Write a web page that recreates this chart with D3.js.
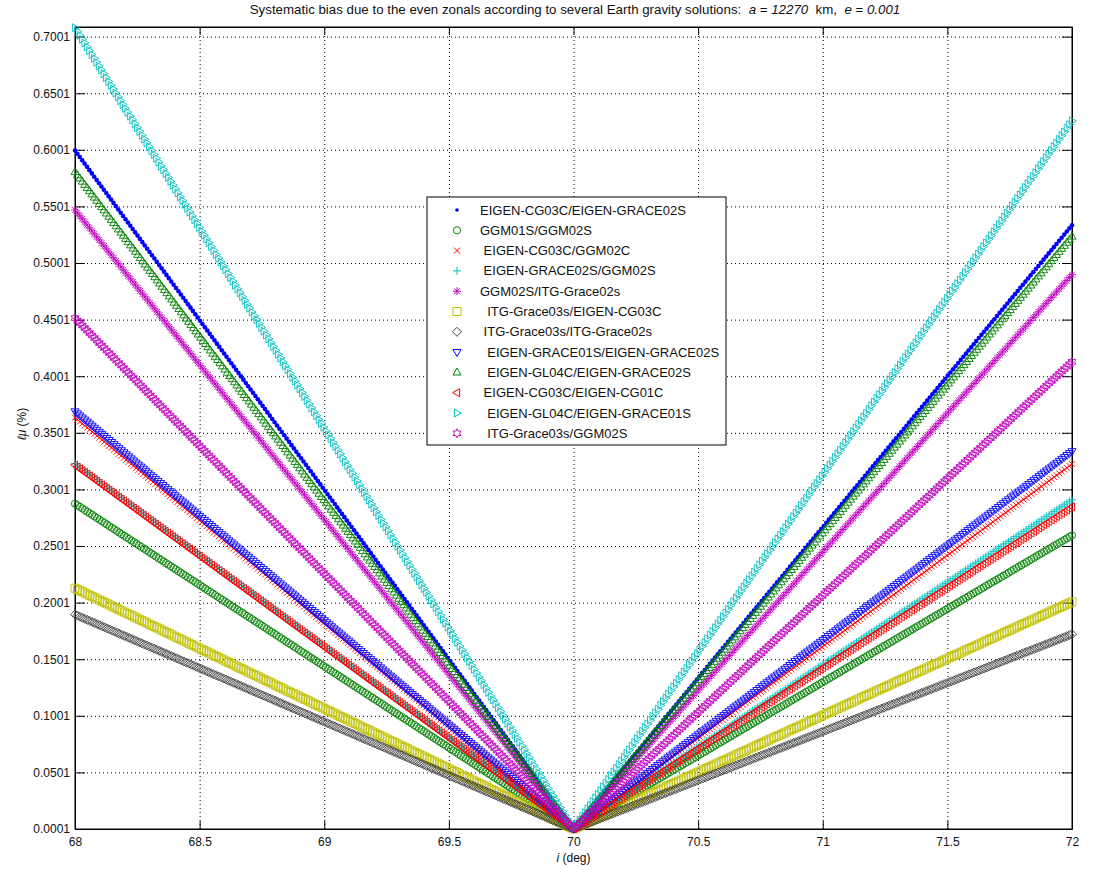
<!DOCTYPE html>
<html>
<head>
<meta charset="utf-8">
<script src="https://cdn.jsdelivr.net/npm/d3@7"></script>
<style>
  body { margin: 0; background: #fff; }
  text { font-family: "Liberation Sans", Arial, sans-serif; fill: #111; }
</style>
</head>
<body>
<svg id="chart" width="1102" height="873"></svg>
<script>
// legend labels (leading spaces are in the original legend strings)
const seriesNames = [
  "EIGEN-CG03C/EIGEN-GRACE02S",
  "GGM01S/GGM02S",
  " EIGEN-CG03C/GGM02C",
  " EIGEN-GRACE02S/GGM02S",
  "GGM02S/ITG-Grace02s",
  "  ITG-Grace03s/EIGEN-CG03C",
  " ITG-Grace03s/ITG-Grace02s",
  "  EIGEN-GRACE01S/EIGEN-GRACE02S",
  "  EIGEN-GL04C/EIGEN-GRACE02S",
  " EIGEN-CG03C/EIGEN-CG01C",
  "  EIGEN-GL04C/EIGEN-GRACE01S",
  "  ITG-Grace03s/GGM02S"
];
const markerSymbols = [".", "o", "x", "+", "*", "s", "d", "v", "^", "<", ">", "h"];
const seriesColors = ["#0000ff", "#008000", "#ff0000", "#00bfbf", "#bf00bf", "#bfbf00",
                      "#404040", "#0000ff", "#008000", "#ff0000", "#00bfbf", "#bf00bf"];

// inclination (deg) where the bias was read
const inclinations = [68, 70, 72];
// bias (%) per series at each inclination
const biasAt68 = [0.5995, 0.2875, 0.3635, 0.3230, 0.5470, 0.2128, 0.1895, 0.3690, 0.5805, 0.3215, 0.7080, 0.4515];
const biasAt70 = [0.0001, 0.0001, 0.0001, 0.0001, 0.0001, 0.0001, 0.0001, 0.0001, 0.0001, 0.0001, 0.0001, 0.0001];
const biasAt72 = [0.5335, 0.2595, 0.3225, 0.2910, 0.4898, 0.2008, 0.1722, 0.3338, 0.5235, 0.2848, 0.6257, 0.4128];

const xTicks = [68, 68.5, 69, 69.5, 70, 70.5, 71, 71.5, 72];
const yTicks = [0.0001, 0.0501, 0.1001, 0.1501, 0.2001, 0.2501, 0.3001, 0.3501,
                0.4001, 0.4501, 0.5001, 0.5501, 0.6001, 0.6501, 0.7001];

const margin = { top: 27, right: 30, bottom: 44, left: 75 };
const width = 1102 - margin.left - margin.right;
const height = 873 - margin.top - margin.bottom;
const markerCount = 400;

const svg = d3.select("#chart");
const g = svg.append("g").attr("transform", "translate(" + margin.left + "," + margin.top + ")");

const x = d3.scaleLinear().domain([68, 72]).range([0, width]);
const y = d3.scaleLinear().domain([0.0001, 0.7086]).range([height, 0]);

// dotted grid
g.append("g")
  .attr("transform", "translate(0," + height + ")")
  .call(d3.axisBottom(x).tickValues(xTicks.slice(1, -1)).tickSize(-height).tickFormat(""))
  .call(a => a.select(".domain").remove())
  .selectAll("line").attr("stroke", "#000").attr("stroke-dasharray", "1,3");
g.append("g")
  .call(d3.axisLeft(y).tickValues(yTicks.slice(1)).tickSize(-width).tickFormat(""))
  .call(a => a.select(".domain").remove())
  .selectAll("line").attr("stroke", "#000").attr("stroke-dasharray", "1,3");

// axes with inward ticks on all four sides
const fmtY = d3.format(".4f");
const xAxis = g.append("g")
  .attr("transform", "translate(0," + height + ")")
  .call(d3.axisBottom(x).tickValues(xTicks).tickSizeInner(-8).tickSizeOuter(0).tickPadding(6)
    .tickFormat(d => String(d)));
g.append("g")
  .call(d3.axisTop(x).tickValues(xTicks).tickSizeInner(-8).tickSizeOuter(0).tickFormat(""));
const yAxis = g.append("g")
  .call(d3.axisLeft(y).tickValues(yTicks).tickSizeInner(-10).tickSizeOuter(0).tickPadding(5).tickFormat(fmtY));
g.append("g")
  .attr("transform", "translate(" + width + ",0)")
  .call(d3.axisRight(y).tickValues(yTicks).tickSizeInner(-10).tickSizeOuter(0).tickFormat(""));
g.append("rect").attr("width", width).attr("height", height)
  .attr("fill", "none").attr("stroke", "#000");
g.selectAll(".domain").attr("stroke", "#000");
g.selectAll(".tick text").attr("font-size", 12).attr("fill", "#222")
  .attr("font-family", '"Liberation Sans", Arial, sans-serif');
xAxis.selectAll(".tick text").attr("dy", "0.9em");

function markerPath(sym) {
  switch (sym) {
    case ".": return circle(2.3);
    case "o": return circle(3.6);
    case "x": return "M-3,-3L3,3M-3,3L3,-3";
    case "+": return "M-4,0H4M0,-4V4";
    case "*": return "M-4,0H4M0,-4V4M-2.9,-2.9L2.9,2.9M-2.9,2.9L2.9,-2.9";
    case "s": return "M-4,-4H4V4H-4Z";
    case "d": return "M0,-4.5L4.5,0L0,4.5L-4.5,0Z";
    case "v": return "M-4,-2.6L4,-2.6L0,4.4Z";
    case "^": return "M-4,2.6L4,2.6L0,-4.4Z";
    case "<": return "M2.6,-4L2.6,4L-4.4,0Z";
    case ">": return "M-2.6,-4L-2.6,4L4.4,0Z";
    case "h": {
      const pts = d3.range(12).map(k => {
        const a = -Math.PI / 2 + k * Math.PI / 6;
        const rr = k % 2 === 0 ? 4.5 : 4.5 / Math.sqrt(3);
        return [rr * Math.cos(a), rr * Math.sin(a)];
      });
      return "M" + pts.map(p => p[0].toFixed(2) + "," + p[1].toFixed(2)).join("L") + "Z";
    }
  }
  return circle(4);
}
function circle(r) {
  return "M" + r + ",0A" + r + "," + r + " 0 1,1 " + (-r) + ",0A" + r + "," + r + " 0 1,1 " + r + ",0Z";
}

const line = d3.line().x((d, i) => x(inclinations[i])).y(d => y(d));

seriesNames.forEach((name, s) => {
  const vals = [biasAt68[s], biasAt70[s], biasAt72[s]];
  const path = g.append("path").attr("d", line(vals)).attr("fill", "none").attr("stroke", "none");
  const node = path.node();
  const len = node.getTotalLength();
  const pts = d3.range(markerCount + 1).map(k => node.getPointAtLength(len * k / markerCount));
  const sym = markerSymbols[s];
  g.append("g")
    .selectAll("path")
    .data(pts)
    .join("path")
    .attr("transform", p => "translate(" + p.x + "," + p.y + ")")
    .attr("d", markerPath(sym))
    .attr("fill", sym === "." ? seriesColors[s] : "none")
    .attr("stroke", sym === "." ? "none" : seriesColors[s])
    .attr("stroke-width", 0.9);
});

// legend
const legend = svg.append("g").attr("transform", "translate(427,197)");
legend.append("rect").attr("width", 299).attr("height", 248)
  .attr("fill", "#fff").attr("stroke", "#000").attr("stroke-width", 1);
seriesNames.forEach((name, s) => {
  const row = legend.append("g").attr("transform", "translate(0," + (13 + s * 20.3) + ")");
  row.append("path")
    .attr("transform", "translate(30,0)")
    .attr("d", markerSymbols[s] === "." ? circle(1.8) : markerPath(markerSymbols[s]))
    .attr("fill", markerSymbols[s] === "." ? seriesColors[s] : "none")
    .attr("stroke", markerSymbols[s] === "." ? "none" : seriesColors[s])
    .attr("stroke-width", 1);
  row.append("text")
    .attr("x", 53).attr("dy", "0.35em")
    .attr("font-size", 13)
    .style("white-space", "pre")
    .text(name);
});

// title and axis labels
const title = svg.append("text")
  .attr("x", 575).attr("y", 14)
  .attr("text-anchor", "middle")
  .attr("font-size", 13.3)
  .style("white-space", "pre");
title.append("tspan").text("Systematic bias due to the even zonals according to several Earth gravity solutions:  ");
title.append("tspan").attr("font-style", "italic").text("a");
title.append("tspan").text(" = ");
title.append("tspan").attr("font-style", "italic").text("12270");
title.append("tspan").text("  km,  ");
title.append("tspan").attr("font-style", "italic").text("e");
title.append("tspan").text(" = ");
title.append("tspan").attr("font-style", "italic").text("0.001");

const xLabel = svg.append("text")
  .attr("x", margin.left + width / 2).attr("y", 862)
  .attr("text-anchor", "middle").attr("font-size", 12);
xLabel.append("tspan").attr("font-style", "italic").text("i");
xLabel.append("tspan").text(" (deg)");

const yLabel = svg.append("text")
  .attr("transform", "translate(26," + (margin.top + height / 2 - 4) + ") rotate(-90)")
  .attr("text-anchor", "middle").attr("font-size", 12);
yLabel.append("tspan").attr("font-style", "italic").text("ℓμ");
yLabel.append("tspan").text(" (%)");
</script>
</body>
</html>
